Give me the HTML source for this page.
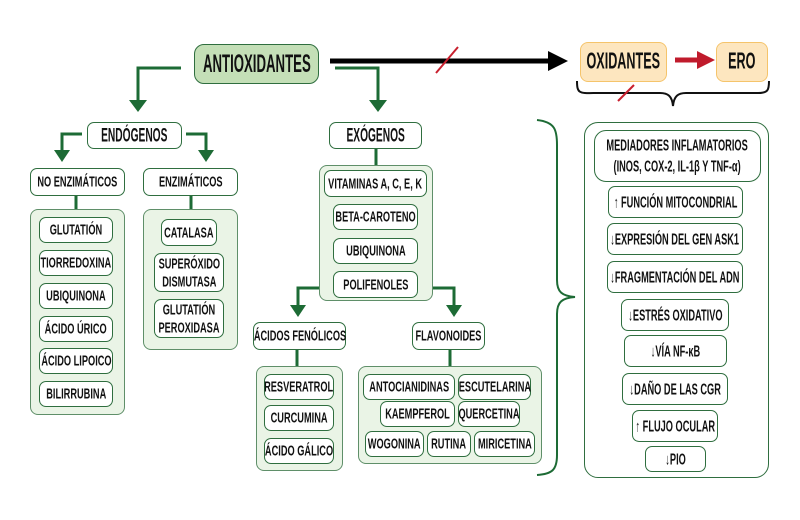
<!DOCTYPE html>
<html><head><meta charset="utf-8"><style>
body{margin:0;width:800px;height:520px;background:#fff;position:relative;overflow:hidden;font-family:"Liberation Sans",sans-serif;font-weight:bold;color:#111}
.b{position:absolute;box-sizing:border-box;border:1.5px solid #2f6e3f;border-radius:7px;background:#fff;display:flex;align-items:center;justify-content:center;text-align:center;font-size:13px;line-height:14px}
.b span{display:inline-block;white-space:nowrap;transform:scale(0.71,1.12);transform-origin:center}
.b.t span{transform:scale(0.6,1.12)}
.b.r span{transform:scale(0.66,1.12)}
.g{position:absolute;box-sizing:border-box;border:1.5px solid #5f8f69;border-radius:8px;background:#eaf4e6}
svg{position:absolute;left:0;top:0}
</style></head><body>
<svg width="800" height="520">
<g fill="none" stroke="#1d6b35" stroke-width="3">
<path d="M181,68 H138 V102"/><path d="M335,68 H378 V102"/>
<path d="M82,134 H62 V152"/><path d="M186,134 H206 V152"/>
<path d="M319,288 H298 V307"/><path d="M433,288 H454 V307"/>
</g>
<g fill="#1d6b35">
<path d="M129,100 L147,100 L138,112 Z"/><path d="M369,100 L387,100 L378,112 Z"/>
<path d="M54,150 L70,150 L62,162 Z"/><path d="M198,150 L214,150 L206,162 Z"/>
<path d="M290,305 L306,305 L298,317 Z"/><path d="M446,305 L462,305 L454,317 Z"/>
</g>
<g stroke="#1d6b35" stroke-width="3">
<line x1="76" y1="196" x2="76" y2="210"/><line x1="191" y1="196" x2="191" y2="210"/>
<line x1="376" y1="149" x2="376" y2="166"/>
<line x1="297" y1="350" x2="297" y2="367"/><line x1="450" y1="350" x2="450" y2="367"/>
</g>
<line x1="330" y1="61" x2="552" y2="61" stroke="#000" stroke-width="5"/>
<path d="M548,51 L568,61 L548,71 Z" fill="#000"/>
<line x1="436" y1="73" x2="458" y2="47" stroke="#c8202e" stroke-width="2"/>
<line x1="675" y1="60" x2="700" y2="60" stroke="#c01b2c" stroke-width="5"/>
<path d="M697,51 L715,60 L697,69 Z" fill="#c01b2c"/>
<path d="M577,81 C577,95 580,93 600,93 L660,93 C668,93 672,96 673,106 C674,96 678,93 686,93 L758,93 C768,93 769,90 769,81" fill="none" stroke="#111" stroke-width="2"/>
<line x1="618" y1="101" x2="634" y2="85" stroke="#c8202e" stroke-width="2"/>
<path d="M537,120 C555,122 557,130 557,145 L557,280 C557,292 562,296 575,297 C562,298 557,302 557,314 L557,455 C557,470 552,474 537,475" fill="none" stroke="#1d6b35" stroke-width="2"/>
</svg>
<div class="b t" style="left:194px;top:44px;width:125px;height:40px;background:#c4dfb7;border-radius:10px;font-size:22px"><span>ANTIOXIDANTES</span></div>
<div class="b t" style="left:580px;top:42px;width:87px;height:40px;background:#fde6bf;border-color:#f5c46b;border-radius:8px;font-size:21px"><span>OXIDANTES</span></div>
<div class="b t" style="left:716px;top:42px;width:52px;height:40px;background:#fde6bf;border-color:#f5c46b;border-radius:8px;font-size:21px"><span>ERO</span></div>
<div class="b t" style="left:87px;top:122px;width:95px;height:27px;font-size:17px"><span>ENDÓGENOS</span></div>
<div class="b t" style="left:329px;top:122px;width:93px;height:27px;font-size:17px"><span>EXÓGENOS</span></div>
<div class="b" style="left:30px;top:168px;width:95px;height:28px"><span>NO ENZIMÁTICOS</span></div>
<div class="b" style="left:143px;top:168px;width:95px;height:28px"><span>ENZIMÁTICOS</span></div>
<div class="g" style="left:30px;top:209px;width:95px;height:206px"></div>
<div class="b" style="left:39px;top:217px;width:74px;height:26px"><span>GLUTATIÓN</span></div>
<div class="b" style="left:39px;top:250px;width:74px;height:26px"><span>TIORREDOXINA</span></div>
<div class="b" style="left:39px;top:283px;width:74px;height:26px"><span>UBIQUINONA</span></div>
<div class="b" style="left:39px;top:316px;width:74px;height:26px"><span>ÁCIDO ÚRICO</span></div>
<div class="b" style="left:39px;top:348px;width:74px;height:26px"><span>ÁCIDO LIPOICO</span></div>
<div class="b" style="left:39px;top:381px;width:74px;height:26px"><span>BILIRRUBINA</span></div>
<div class="g" style="left:143px;top:209px;width:95px;height:141px"></div>
<div class="b" style="left:161px;top:219px;width:56px;height:27px"><span>CATALASA</span></div>
<div class="b" style="left:154px;top:253px;width:70px;height:39px;line-height:16px"><span>SUPERÓXIDO<br>DISMUTASA</span></div>
<div class="b" style="left:154px;top:299px;width:70px;height:39px;line-height:16px"><span>GLUTATIÓN<br>PEROXIDASA</span></div>
<div class="g" style="left:319px;top:165px;width:114px;height:136px"></div>
<div class="b" style="left:324px;top:170px;width:103px;height:27px"><span>VITAMINAS A, C, E, K</span></div>
<div class="b" style="left:333px;top:204px;width:85px;height:26px"><span>BETA-CAROTENO</span></div>
<div class="b" style="left:333px;top:238px;width:85px;height:26px"><span>UBIQUINONA</span></div>
<div class="b" style="left:333px;top:271px;width:85px;height:27px"><span>POLIFENOLES</span></div>
<div class="b" style="left:253px;top:322px;width:93px;height:28px"><span>ÁCIDOS FENÓLICOS</span></div>
<div class="b" style="left:412px;top:322px;width:73px;height:28px"><span>FLAVONOIDES</span></div>
<div class="g" style="left:256px;top:366px;width:87px;height:105px"></div>
<div class="b" style="left:264px;top:374px;width:70px;height:26px"><span>RESVERATROL</span></div>
<div class="b" style="left:264px;top:405px;width:70px;height:26px"><span>CURCUMINA</span></div>
<div class="b" style="left:264px;top:438px;width:70px;height:26px"><span>ÁCIDO GÁLICO</span></div>
<div class="g" style="left:358px;top:366px;width:184px;height:98px"></div>
<div class="b" style="left:363px;top:374px;width:92px;height:26px"><span>ANTOCIANIDINAS</span></div>
<div class="b" style="left:458px;top:374px;width:73px;height:26px"><span>ESCUTELARINA</span></div>
<div class="b" style="left:380px;top:401px;width:75px;height:26px"><span>KAEMPFEROL</span></div>
<div class="b" style="left:458px;top:401px;width:62px;height:26px"><span>QUERCETINA</span></div>
<div class="b" style="left:365px;top:431px;width:59px;height:26px"><span>WOGONINA</span></div>
<div class="b" style="left:427px;top:431px;width:44px;height:26px"><span>RUTINA</span></div>
<div class="b" style="left:474px;top:431px;width:61px;height:26px"><span>MIRICETINA</span></div>
<div class="b" style="left:584px;top:122px;width:185px;height:356px;border-radius:14px;background:#fff"></div>
<div class="b r" style="left:594px;top:130px;width:167px;height:52px;border-radius:12px;line-height:19px;font-size:14px"><span>MEDIADORES INFLAMATORIOS<br>(INOS, COX-2, IL-1β Y TNF-α)</span></div>
<div class="b r" style="left:608px;top:186px;width:135px;height:32px;font-size:14px"><span>↑ FUNCIÓN MITOCONDRIAL</span></div>
<div class="b r" style="left:607px;top:223px;width:136px;height:32px;font-size:14px"><span>↓EXPRESIÓN DEL GEN ASK1</span></div>
<div class="b r" style="left:607px;top:261px;width:136px;height:32px;font-size:14px"><span>↓FRAGMENTACIÓN DEL ADN</span></div>
<div class="b r" style="left:621px;top:299px;width:108px;height:32px;font-size:14px"><span>↓ESTRÉS OXIDATIVO</span></div>
<div class="b r" style="left:624px;top:335px;width:103px;height:32px;font-size:14px"><span>↓VÍA NF-κB</span></div>
<div class="b r" style="left:622px;top:373px;width:106px;height:32px;font-size:14px"><span>↓DAÑO DE LAS CGR</span></div>
<div class="b r" style="left:632px;top:410px;width:86px;height:32px;font-size:14px"><span>↑ FLUJO OCULAR</span></div>
<div class="b r" style="left:645px;top:446px;width:61px;height:26px;font-size:14px"><span>↓PIO</span></div>
</body></html>
